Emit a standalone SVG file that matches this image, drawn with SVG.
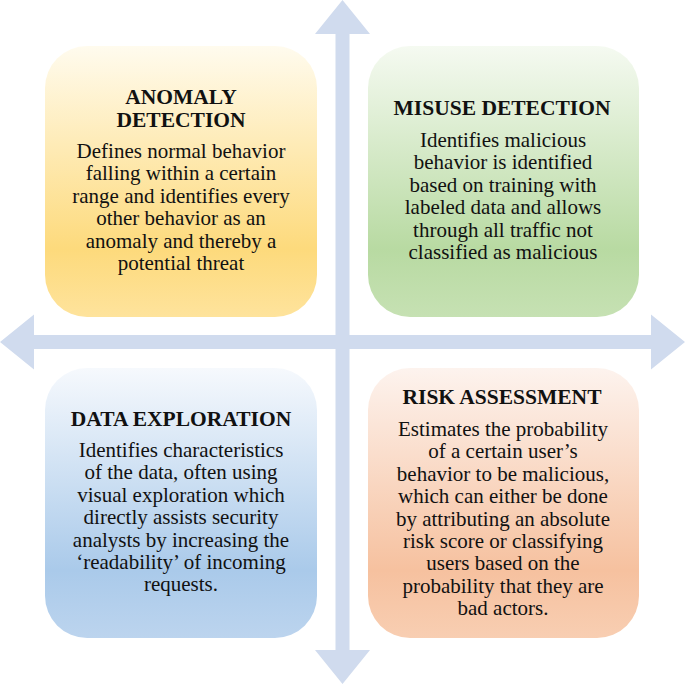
<svg xmlns="http://www.w3.org/2000/svg" width="685" height="684" viewBox="0 0 685 684">
<defs>
<linearGradient id="gY" x1="0" y1="0" x2="0" y2="1"><stop offset="0" stop-color="#fffbee"/><stop offset="0.75" stop-color="#fdda7c"/><stop offset="1" stop-color="#fee39c"/></linearGradient>
<linearGradient id="gG" x1="0" y1="0" x2="0" y2="1"><stop offset="0" stop-color="#f5faf1"/><stop offset="0.75" stop-color="#b8daa2"/><stop offset="1" stop-color="#c6e1b3"/></linearGradient>
<linearGradient id="gB" x1="0" y1="0" x2="0" y2="1"><stop offset="0" stop-color="#f6f9fd"/><stop offset="0.75" stop-color="#aacaea"/><stop offset="1" stop-color="#bcd4ee"/></linearGradient>
<linearGradient id="gO" x1="0" y1="0" x2="0" y2="1"><stop offset="0" stop-color="#fdf3ee"/><stop offset="0.75" stop-color="#f6c19f"/><stop offset="1" stop-color="#f8ceb2"/></linearGradient>
</defs>
<style>
.arrow{fill:#d0dbee}
.box{stroke:none}
.txt{font-family:'Liberation Serif','Times New Roman',serif;fill:#111;text-anchor:middle}
.t{font-size:21.5px;font-weight:bold}
.b{font-size:21px}
</style>
<rect width="685" height="684" fill="#ffffff"/>
<g id="connectors">
<polygon class="arrow" points="342.5,0 370,34 349.5,34 349.5,650 370,650 342.5,684 315,650 335.5,650 335.5,34 315,34"/>
<polygon class="arrow" points="0,342 34,314.5 34,335 651,335 651,314.5 685,342 651,369.5 651,349 34,349 34,369.5"/>
</g>
<g id="anomaly">
<rect class="box" x="45" y="46" width="272" height="271" rx="42" fill="url(#gY)"/>
<g class="txt" font-family="Liberation Serif, serif">
<text class="t" x="181" y="104">ANOMALY</text>
<text class="t" x="181" y="126.5">DETECTION</text>
<text class="b" x="181" y="158">Defines normal behavior</text>
<text class="b" x="181" y="180.4">falling within a certain</text>
<text class="b" x="181" y="202.8">range and identifies every</text>
<text class="b" x="181" y="225.2">other behavior as an</text>
<text class="b" x="181" y="247.6">anomaly and thereby a</text>
<text class="b" x="181" y="270">potential threat</text>
</g>
</g>
<g id="misuse">
<rect class="box" x="368" y="46" width="271" height="271" rx="42" fill="url(#gG)"/>
<g class="txt" font-family="Liberation Serif, serif">
<text class="t" x="502" y="115">MISUSE DETECTION</text>
<text class="b" x="503" y="147">Identifies malicious</text>
<text class="b" x="503" y="169.4">behavior is identified</text>
<text class="b" x="503" y="191.8">based on training with</text>
<text class="b" x="503" y="214.2">labeled data and allows</text>
<text class="b" x="503" y="236.6">through all traffic not</text>
<text class="b" x="503" y="259">classified as malicious</text>
</g>
</g>
<g id="exploration">
<rect class="box" x="45" y="368" width="272" height="270" rx="42" fill="url(#gB)"/>
<g class="txt" font-family="Liberation Serif, serif">
<text class="t" x="181" y="426">DATA EXPLORATION</text>
<text class="b" x="181" y="457">Identifies characteristics</text>
<text class="b" x="181" y="479.4">of the data, often using</text>
<text class="b" x="181" y="501.8">visual exploration which</text>
<text class="b" x="181" y="524.2">directly assists security</text>
<text class="b" x="181" y="546.6">analysts by increasing the</text>
<text class="b" x="181" y="569">‘readability’ of incoming</text>
<text class="b" x="181" y="591.4">requests.</text>
</g>
</g>
<g id="risk">
<rect class="box" x="368" y="368" width="271" height="270" rx="42" fill="url(#gO)"/>
<g class="txt" font-family="Liberation Serif, serif">
<text class="t" x="502" y="404">RISK ASSESSMENT</text>
<text class="b" x="503" y="436">Estimates the probability</text>
<text class="b" x="503" y="458.4">of a certain user’s</text>
<text class="b" x="503" y="480.8">behavior to be malicious,</text>
<text class="b" x="503" y="503.2">which can either be done</text>
<text class="b" x="503" y="525.6">by attributing an absolute</text>
<text class="b" x="503" y="548">risk score or classifying</text>
<text class="b" x="503" y="570.4">users based on the</text>
<text class="b" x="503" y="592.8">probability that they are</text>
<text class="b" x="503" y="615.2">bad actors.</text>
</g>
</g>
</svg>
